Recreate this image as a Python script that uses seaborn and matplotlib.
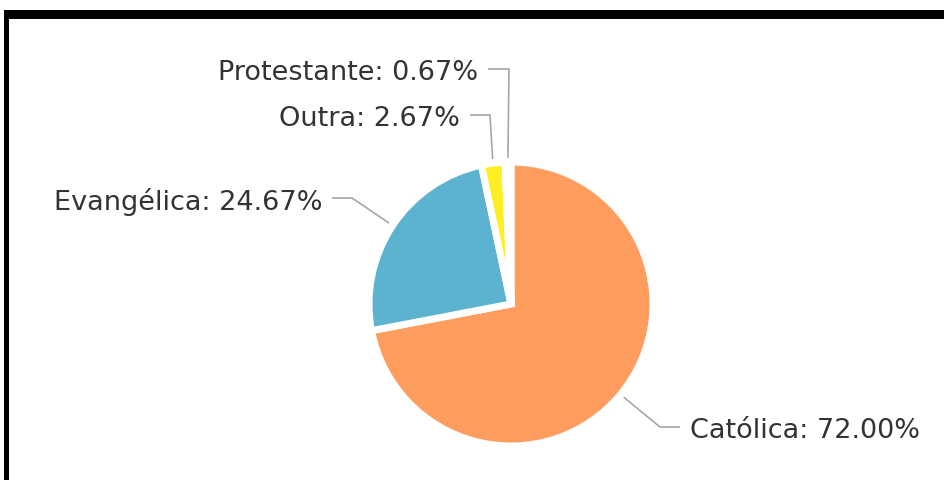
import numpy as np
import matplotlib
matplotlib.use("Agg")
import matplotlib.pyplot as plt
import seaborn as sns
from matplotlib.patches import Rectangle

# ---- data ----
categories = ["Católica", "Evangélica", "Outra", "Protestante"]
values = [72.00, 24.67, 2.67, 0.67]
colors = ["#FF9D5F", "#5CB3CF", "#FFEE22", "#E8707A"]

sns.set_theme(style="white")
plt.rcParams["font.family"] = ["DejaVu Sans"]

W, H = 944, 481
fig = plt.figure(figsize=(W / 100, H / 100), dpi=100)
fig.patch.set_facecolor("white")
ax = fig.add_axes([0, 0, 1, 1])

center = (511, 305)
radius = 142
wedges, _ = ax.pie(values, colors=colors, center=center, radius=radius,
                   startangle=-90, counterclock=True,
                   wedgeprops=dict(linewidth=7 * 72 / 100, edgecolor="white",
                                   joinstyle="miter"))
ax.set_xlim(0, W)
ax.set_ylim(H, 0)
ax.set_aspect("auto")
ax.axis("off")

# label layout (pixel positions): elbow point, line end, text side
layout = {
    "Católica":   dict(elbow=(660, 428), end=(680, 428), ha="left"),
    "Evangélica": dict(elbow=(352, 199), end=(332, 199), ha="right"),
    "Outra":      dict(elbow=(490, 116), end=(470, 116), ha="right"),
    "Protestante": dict(elbow=(509, 70), end=(488, 70), ha="right"),
}
line_color = "#A6A6A6"
text_color = "#333333"
for w, cat, val in zip(wedges, categories, values):
    th = np.deg2rad((w.theta1 + w.theta2) / 2)
    cx, cy = w.center
    ax_pt = (cx + w.r * 1.03 * np.cos(th), cy + w.r * 1.03 * np.sin(th))
    lay = layout[cat]
    xs = [ax_pt[0], lay["elbow"][0], lay["end"][0]]
    ys = [ax_pt[1], lay["elbow"][1], lay["end"][1]]
    ax.plot(xs, ys, color=line_color, lw=1.2, solid_capstyle="butt", zorder=0.5)
    dx = 10 if lay["ha"] == "left" else -10
    ax.text(lay["end"][0] + dx, lay["end"][1], f"{cat}: {val:.2f}%",
            ha=lay["ha"], va="center_baseline", fontsize=19.5, color=text_color)

# black frame (top and left edges visible)
fig.patches.append(Rectangle((4 / W, 0), 5 / W, (H - 11) / H, transform=fig.transFigure,
                             facecolor="black", edgecolor="none"))
fig.patches.append(Rectangle((4 / W, (H - 20) / H), (W - 4) / W, 9 / H,
                             transform=fig.transFigure, facecolor="black", edgecolor="none"))

fig.savefig("out.png", dpi=100, facecolor="white")
